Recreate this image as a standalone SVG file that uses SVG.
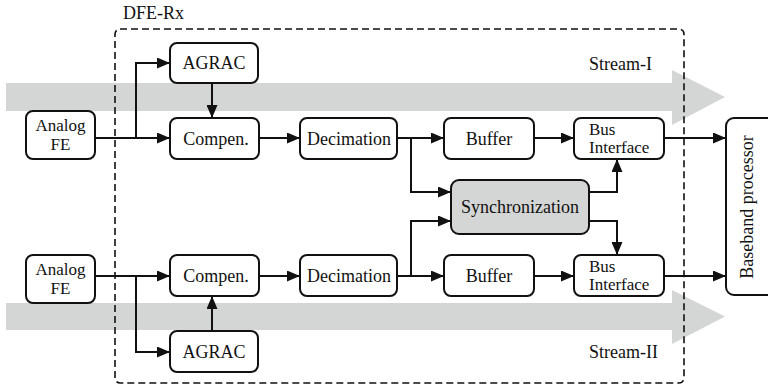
<svg xmlns="http://www.w3.org/2000/svg" width="768" height="389" viewBox="0 0 768 389" font-family="'Liberation Serif', 'DejaVu Serif', serif">
  <defs>
    <marker id="arrow" markerUnits="userSpaceOnUse" markerWidth="14" markerHeight="11" refX="13" refY="5.5" orient="auto">
      <path d="M0,0 L13,5.5 L0,11 Z" fill="#111"/>
    </marker>
    <style>
      text { font-family: 'Liberation Serif', 'DejaVu Serif', serif; font-size: 18px; fill: #111; }
      .two { font-size: 17px; }
      .box { fill: #fff; stroke: #111; stroke-width: 2; }
      .sync { fill: #d4d6d5; stroke: #111; stroke-width: 2; }
      .band { fill: #d4d6d5; }
      .frame { fill: none; stroke: #111; stroke-width: 1.6; stroke-dasharray: 7 4; }
      .wire { fill: none; stroke: #111; stroke-width: 2; }
      .arr { marker-end: url(#arrow); }
      .c { text-anchor: middle; }
    </style>
  </defs>

  <rect width="768" height="389" fill="#fff"/>

  <!-- stream bands -->
  <g id="stream-bands">
    <path class="band" d="M6,83 H672 V70 L725,97 L672,125 V111 H6 Z"/>
    <path class="band" d="M6,303 H672 V290 L725,316.5 L672,344 V330 H6 Z"/>
  </g>

  <!-- DFE-Rx frame -->
  <g id="dfe-rx">
    <rect class="frame" x="115" y="29" width="569" height="354" rx="5"/>
    <text x="123" y="19">DFE-Rx</text>
    <text x="589" y="70">Stream-I</text>
    <text x="589" y="358">Stream-II</text>
  </g>

  <!-- connectors -->
  <g id="connectors">
    <!-- stream I -->
    <path class="wire arr" d="M95,138 H170"/>
    <path class="wire arr" d="M136,138 V63 H170"/>
    <path class="wire arr" d="M212,83 V118"/>
    <path class="wire arr" d="M259,138 H300"/>
    <path class="wire arr" d="M397,138 H444"/>
    <path class="wire arr" d="M411,138 V192 H451"/>
    <path class="wire arr" d="M534,138 H574"/>
    <path class="wire arr" d="M589,192 H617 V159"/>
    <path class="wire arr" d="M664,138 H726"/>
    <!-- stream II -->
    <path class="wire arr" d="M95,276 H170"/>
    <path class="wire arr" d="M136,276 V352 H170"/>
    <path class="wire arr" d="M212,331 V296"/>
    <path class="wire arr" d="M259,276 H300"/>
    <path class="wire arr" d="M397,276 H444"/>
    <path class="wire arr" d="M411,276 V221 H451"/>
    <path class="wire arr" d="M534,276 H574"/>
    <path class="wire arr" d="M589,221 H617 V255"/>
    <path class="wire arr" d="M664,276 H726"/>
  </g>

  <!-- stream I nodes -->
  <g id="analog-fe-1">
    <rect class="box" x="26" y="111" width="69" height="48" rx="7"/>
    <text class="c two" x="60.5" y="131">Analog</text>
    <text class="c two" x="60.5" y="150">FE</text>
  </g>
  <g id="agrac-1">
    <rect class="box" x="170" y="43" width="88" height="40" rx="7"/>
    <text class="c" x="214" y="69">AGRAC</text>
  </g>
  <g id="compen-1">
    <rect class="box" x="170" y="118" width="89" height="41" rx="7"/>
    <text class="c" x="216" y="145">Compen.</text>
  </g>
  <g id="decimation-1">
    <rect class="box" x="300" y="118" width="97" height="41" rx="7"/>
    <text class="c" x="349" y="145">Decimation</text>
  </g>
  <g id="buffer-1">
    <rect class="box" x="444" y="118" width="90" height="41" rx="7"/>
    <text class="c" x="489" y="145">Buffer</text>
  </g>
  <g id="bus-interface-1">
    <rect class="box" x="574" y="118" width="90" height="41" rx="7"/>
    <text class="two" x="589" y="135">Bus</text>
    <text class="two" x="589" y="153">Interface</text>
  </g>

  <!-- shared synchronization -->
  <g id="synchronization">
    <rect class="sync" x="451" y="180" width="138" height="54" rx="8"/>
    <text class="c" x="520" y="213">Synchronization</text>
  </g>

  <!-- stream II nodes -->
  <g id="analog-fe-2">
    <rect class="box" x="26" y="255" width="69" height="48" rx="7"/>
    <text class="c two" x="60.5" y="275">Analog</text>
    <text class="c two" x="60.5" y="294">FE</text>
  </g>
  <g id="compen-2">
    <rect class="box" x="170" y="255" width="89" height="41" rx="7"/>
    <text class="c" x="216" y="282">Compen.</text>
  </g>
  <g id="agrac-2">
    <rect class="box" x="170" y="331" width="88" height="41" rx="7"/>
    <text class="c" x="214" y="358">AGRAC</text>
  </g>
  <g id="decimation-2">
    <rect class="box" x="300" y="255" width="97" height="41" rx="7"/>
    <text class="c" x="349" y="282">Decimation</text>
  </g>
  <g id="buffer-2">
    <rect class="box" x="444" y="255" width="90" height="41" rx="7"/>
    <text class="c" x="489" y="282">Buffer</text>
  </g>
  <g id="bus-interface-2">
    <rect class="box" x="574" y="255" width="90" height="41" rx="7"/>
    <text class="two" x="589" y="272">Bus</text>
    <text class="two" x="589" y="290">Interface</text>
  </g>

  <!-- baseband processor -->
  <g id="baseband-processor">
    <rect class="box" x="726" y="118" width="60" height="177" rx="8"/>
    <text class="c" transform="translate(753,207) rotate(-90)">Baseband processor</text>
  </g>
</svg>
